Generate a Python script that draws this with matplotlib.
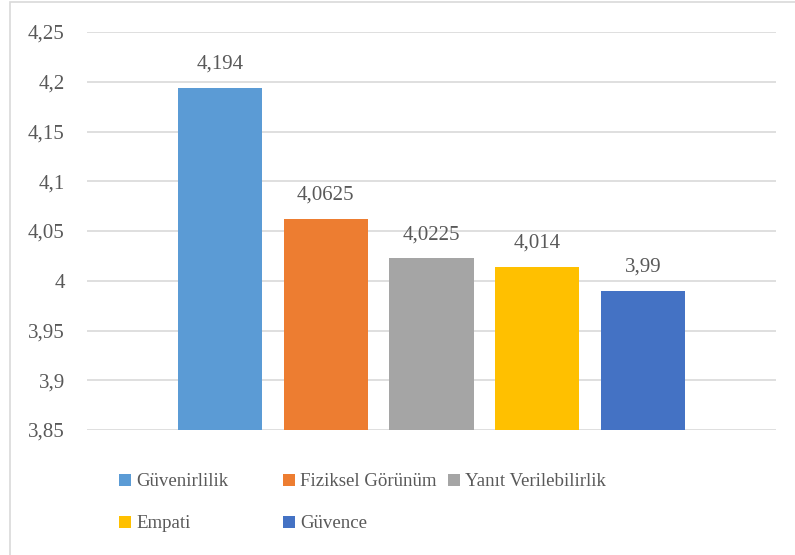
import matplotlib
matplotlib.use("Agg")
import matplotlib.pyplot as plt
from matplotlib.patches import Rectangle
from matplotlib.ticker import FixedLocator

# Service-quality dimension means
categories = ["Güvenirlilik", "Fiziksel Görünüm", "Yanıt Verilebilirlik", "Empati", "Güvence"]
values = [4.194, 4.0625, 4.0225, 4.014, 3.99]
value_labels = ["4,194", "4,0625", "4,0225", "4,014", "3,99"]
colors = ["#5B9BD5", "#ED7D31", "#A5A5A5", "#FFC000", "#4472C4"]
y_ticks = [3.85, 3.9, 3.95, 4.0, 4.05, 4.1, 4.15, 4.2, 4.25]
y_tick_labels = ["3,85", "3,9", "3,95", "4", "4,05", "4,1", "4,15", "4,2", "4,25"]

plt.rcParams["font.family"] = ["Liberation Serif", "DejaVu Serif"]
text_color = "#595959"
fs_num = 15
fs_leg = 13.6

fig = plt.figure(figsize=(7.95, 5.55), dpi=100)
fig.patch.set_facecolor("white")

# outer chart border (open at the right and bottom edges)
fig.patches.append(Rectangle((10 / 795, -0.1), 1.2, 1.1 - 2 / 555, transform=fig.transFigure,
                             fill=False, edgecolor="#D9D9D9", linewidth=1.2, zorder=0))

ax = fig.add_axes([87 / 795, 1 - 430 / 555, (776 - 87) / 795, (430 - 32) / 555])
x = list(range(len(values)))
bars = ax.bar(x, [v - y_ticks[0] for v in values], bottom=y_ticks[0], width=0.795,
              color=colors, zorder=2)

ax.set_ylim(y_ticks[0], y_ticks[-1])
ax.set_xlim(-1.26, len(values) - 1 + 1.26)
ax.yaxis.set_major_locator(FixedLocator(y_ticks))
ax.set_yticklabels(y_tick_labels)
ax.set_xticks([])
ax.tick_params(axis="y", length=0, pad=16, labelsize=fs_num, labelcolor=text_color)
ax.grid(axis="y", color="#D9D9D9", linewidth=1.2, zorder=0)
for s in ax.spines.values():
    s.set_visible(False)

for b, v, lab in zip(bars, values, value_labels):
    ax.annotate(lab, (b.get_x() + b.get_width() / 2, v), xytext=(0, 10),
                textcoords="offset points", ha="center", va="bottom",
                fontsize=fs_num, color=text_color)

# legend entries placed on a 3-column grid
legend_pos = [(119, 482), (283, 482), (448, 482), (119, 524), (283, 524)]
for b, name, (px, py) in zip(bars, categories, legend_pos):
    fig.legend([b], [name], loc="center left", bbox_to_anchor=(px / 795, 1 - py / 555),
               frameon=False, fontsize=fs_leg, labelcolor=text_color,
               handlelength=0.62, handleheight=0.62, handletextpad=0.3,
               borderpad=0, borderaxespad=0)

fig.savefig("out.png", dpi=100, facecolor="white")
